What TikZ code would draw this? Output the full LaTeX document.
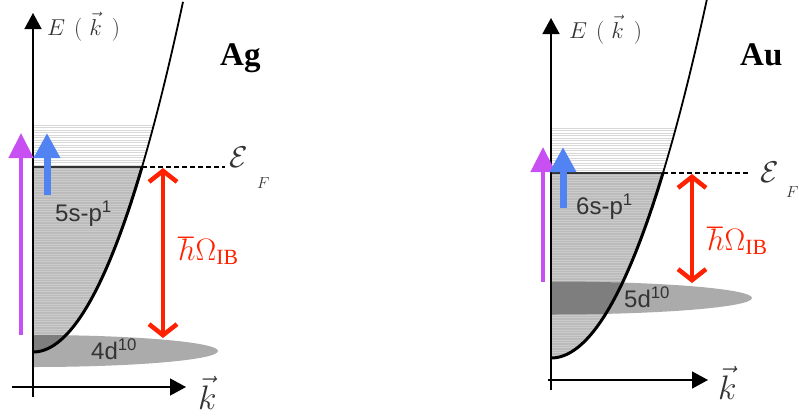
\documentclass[tikz,border=0pt]{standalone}
\usepackage{fix-cm}
\usepackage{fontspec}
\setmainfont{Liberation Serif}
\setsansfont{Liberation Sans}
\usetikzlibrary{arrows.meta}
\definecolor{bandgrey}{HTML}{BBBBBB}
\definecolor{bandline}{HTML}{CBCBCB}
\definecolor{emptyline}{HTML}{D8D8D8}
\definecolor{dgrey}{HTML}{ABABAB}
\definecolor{overlapgrey}{HTML}{7E7E7E}
\definecolor{photonpurple}{HTML}{C850F2}
\definecolor{photonblue}{HTML}{5283F2}
\definecolor{gapred}{HTML}{FF2200}
\definecolor{inkgrey}{HTML}{333333}

\begin{document}
\begin{tikzpicture}[
  x=1pt, y=-1pt,
  axis/.style={line width=1.5pt, -{Triangle[length=16pt,width=17pt]}},
  curvelow/.style={line width=3pt},
  curvehigh/.style={line width=1.8pt},
  fermi/.style={line width=2pt, draw=inkgrey},
  fermidash/.style={line width=1.6pt, dash pattern=on 5pt off 3pt},
  hatchfull/.style={line width=0.9pt, draw=bandline},
  hatchempty/.style={line width=0.9pt, draw=emptyline},
  purplearrow/.style={draw=photonpurple, line width=4.5pt, -{Triangle[length=25pt,width=24pt]}},
  bluearrow/.style={draw=photonblue, line width=7pt, -{Triangle[length=25pt,width=25pt]}},
  gaparrow/.style={draw=gapred, line width=4.5pt, {Straight Barb[length=11pt,width=28pt]}-{Straight Barb[length=11pt,width=28pt]}},
  elabel/.style={anchor=base west, inner sep=0pt, text=inkgrey, font=\fontsize{23}{23}\selectfont},
  klabel/.style={anchor=base west, inner sep=0pt, text=inkgrey, font=\fontsize{34}{34}\selectfont},
  metal/.style={anchor=base west, inner sep=0pt, font=\fontsize{33}{33}\selectfont\bfseries},
  epslabel/.style={anchor=base west, inner sep=0pt, text=inkgrey, font=\fontsize{30}{30}\selectfont},
  fsub/.style={anchor=base west, inner sep=0pt, text=inkgrey, font=\fontsize{16}{16}\selectfont},
  gaplabel/.style={anchor=base west, inner sep=0pt, text=gapred, font=\fontsize{31}{31}\selectfont},
  level/.style={anchor=base west, inner sep=0pt, text=inkgrey, font=\sffamily\fontsize{24}{24}\selectfont}
]
\useasboundingbox (0,0) rectangle (799,415);

\begin{scope}
  \clip (33,0) rectangle (300,415);
  \fill[dgrey] (33,351) ellipse [x radius=185, y radius=16];
\end{scope}
\begin{scope}
  \clip (33,0) -- plot[domain=150:0, samples=80] ({33+\x},{352-0.01557*\x*\x}) -- cycle;
  \fill[bandgrey] (33,167) rectangle (200,360);
  \foreach \y in {169,171.5,...,352} \draw[hatchfull] (33,\y) -- (200,\y);
  \foreach \y in {125,127.5,...,166} \draw[hatchempty] (33,\y) -- (200,\y);
  \fill[overlapgrey] (33,351) ellipse [x radius=185, y radius=16];
\end{scope}
\coordinate (agFl) at (33,167);
\coordinate (agFc) at (142,167);
\coordinate (agFr) at (225,167);
\draw[fermi] (agFl) -- (agFc);
\draw[fermidash] (agFc) -- (agFr);
\draw[curvelow] plot[domain=0:109, samples=60] ({33+\x},{352-0.01557*\x*\x});
\draw[curvehigh] plot[domain=109:150, samples=30] ({33+\x},{352-0.01557*\x*\x});
\coordinate (agYb) at (33,397);
\coordinate (agYt) at (33,13);
\coordinate (agXl) at (12,387);
\coordinate (agXr) at (186,387);
\draw[axis] (agYb) -- (agYt);
\draw[axis] (agXl) -- (agXr);
\node[elabel] (agE) at (47,35) {$E\hspace{9pt}(\hspace{7pt}\vec{k}\hspace{10pt})$};
\node[klabel] (agK) at (198,409) {$\vec{k}$};
\node[metal] (agName) at (220,65) {Ag};
\node[epslabel] (agEps) at (229,167) {$\mathcal{E}$};
\node[fsub] (agEpsF) at (257,188) {$F$};
\node[level] (agSP) at (55,221) {5s-p\textsuperscript{1}};
\node[level] (agD) at (91,359) {4d\textsuperscript{10}};
\node[gaplabel] (agGap) at (178,260) {$\hbar\Omega_{\mathrm{IB}}$};
\coordinate (agPb) at (21,335);
\coordinate (agPt) at (21,133);
\coordinate (agBb) at (47,195);
\coordinate (agBt) at (47,133);
\coordinate (agRt) at (163,168);
\coordinate (agRb) at (163,338);
\draw[purplearrow] (agPb) -- (agPt);
\draw[bluearrow] (agBb) -- (agBt);
\draw[gaparrow] (agRt) -- (agRb);

\begin{scope}
  \clip (551,0) rectangle (799,415);
  \fill[dgrey] (551,298) ellipse [x radius=201, y radius=16.5];
\end{scope}
\begin{scope}
  \clip (551,0) -- plot[domain=156:0, samples=80] ({551+\x},{358-0.01475*\x*\x}) -- cycle;
  \fill[bandgrey] (551,173) rectangle (720,365);
  \foreach \y in {175,177.5,...,358} \draw[hatchfull] (551,\y) -- (720,\y);
  \foreach \y in {128,130.5,...,172} \draw[hatchempty] (551,\y) -- (720,\y);
  \fill[overlapgrey] (551,298) ellipse [x radius=201, y radius=16.5];
\end{scope}
\coordinate (auFl) at (551,173);
\coordinate (auFc) at (663,173);
\coordinate (auFr) at (750,173);
\draw[fermi] (auFl) -- (auFc);
\draw[fermidash] (auFc) -- (auFr);
\draw[curvelow] plot[domain=0:112, samples=60] ({551+\x},{358-0.01475*\x*\x});
\draw[curvehigh] plot[domain=112:156, samples=30] ({551+\x},{358-0.01475*\x*\x});
\coordinate (auYb) at (551,390);
\coordinate (auYt) at (551,18);
\coordinate (auXl) at (548,380);
\coordinate (auXr) at (708,380);
\draw[axis] (auYb) -- (auYt);
\draw[axis] (auXl) -- (auXr);
\node[elabel] (auE) at (569,38) {$E\hspace{9pt}(\hspace{7pt}\vec{k}\hspace{10pt})$};
\node[klabel] (auK) at (718,399) {$\vec{k}$};
\node[metal] (auName) at (740,65) {Au};
\node[epslabel] (auEps) at (760,182) {$\mathcal{E}$};
\node[fsub] (auEpsF) at (786,197) {$F$};
\node[level] (auSP) at (576,214) {6s-p\textsuperscript{1}};
\node[level] (auD) at (624,307) {5d\textsuperscript{10}};
\node[gaplabel] (auGap) at (707,250) {$\hbar\Omega_{\mathrm{IB}}$};
\coordinate (auPb) at (543,282);
\coordinate (auPt) at (543,147);
\coordinate (auBb) at (563,208);
\coordinate (auBt) at (563,147);
\coordinate (auRt) at (692,174);
\coordinate (auRb) at (692,283);
\draw[purplearrow] (auPb) -- (auPt);
\draw[bluearrow] (auBb) -- (auBt);
\draw[gaparrow] (auRt) -- (auRb);
\end{tikzpicture}
\end{document}
